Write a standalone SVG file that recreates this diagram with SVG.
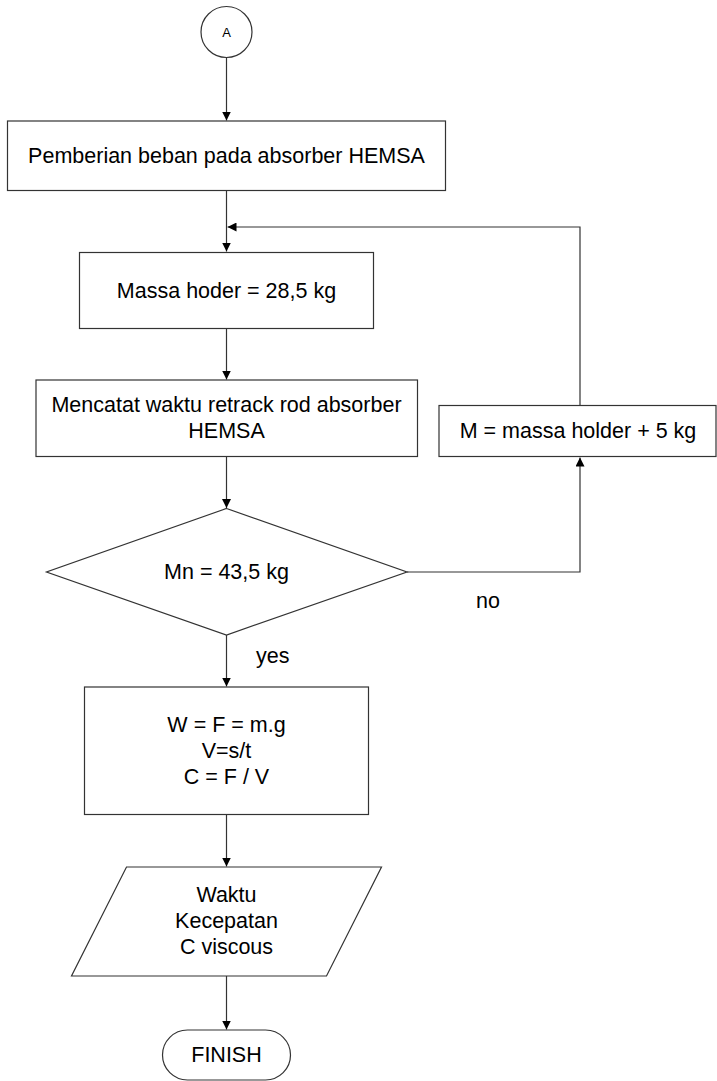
<svg xmlns="http://www.w3.org/2000/svg" width="717" height="1081" viewBox="0 0 717 1081">
<style>
.s{fill:#fff;stroke:#333;stroke-width:1.2}
.t{font-family:"Liberation Sans",Arial,sans-serif;font-size:21.5px;fill:#000;text-anchor:middle}
.l{font-family:"Liberation Sans",Arial,sans-serif;font-size:21.5px;fill:#000}
.c{fill:none;stroke:#333;stroke-width:1.2}
</style>
<defs>
<marker id="ah" viewBox="0 0 10 10" refX="10" refY="5" markerWidth="9" markerHeight="9" markerUnits="userSpaceOnUse" orient="auto">
<path d="M0,0 L10,5 L0,10 z" fill="#000"/>
</marker>
</defs>
<rect width="717" height="1081" fill="#fff"/>
<g id="connectors">
<path class="c" d="M226.5,57.5 V120.5" marker-end="url(#ah)"/>
<path class="c" d="M226.5,191 V251.5" marker-end="url(#ah)"/>
<path class="c" d="M226.5,329 V379.5" marker-end="url(#ah)"/>
<path class="c" d="M226.5,457 V508" marker-end="url(#ah)"/>
<path class="c" d="M226.5,635 V686.5" marker-end="url(#ah)"/>
<path class="c" d="M226.5,815 V866.5" marker-end="url(#ah)"/>
<path class="c" d="M226.5,976 V1029.5" marker-end="url(#ah)"/>
<path class="c" d="M407,572 H580 V457.5" marker-end="url(#ah)"/>
<path class="c" d="M580,405.5 V227 H227.5" marker-end="url(#ah)"/>
<text class="l" x="256" y="663">yes</text>
<text class="l" x="476" y="608">no</text>
</g>
<g id="nodeA">
<circle class="s" cx="226.5" cy="32" r="25.5"/>
<text class="t" x="226.5" y="36.5" style="font-size:13px">A</text>
</g>
<g id="node1">
<rect class="s" x="7.5" y="121" width="438" height="69.5"/>
<text class="t" x="226.5" y="162.5">Pemberian beban pada absorber HEMSA</text>
</g>
<g id="node2">
<rect class="s" x="79.5" y="252.5" width="294" height="76"/>
<text class="t" x="226.5" y="297.5">Massa hoder = 28,5 kg</text>
</g>
<g id="node3">
<rect class="s" x="36" y="380" width="381.5" height="76.5"/>
<text class="t" x="226.5" y="411.5">Mencatat waktu retrack rod absorber</text>
<text class="t" x="226.5" y="437.5">HEMSA</text>
</g>
<g id="node4">
<rect class="s" x="439" y="405.5" width="277" height="51"/>
<text class="t" x="578" y="437.5">M = massa holder + 5 kg</text>
</g>
<g id="decision">
<polygon class="s" points="226.5,508.5 407,572 226.5,635 46.5,572"/>
<text class="t" x="226.5" y="578.5">Mn = 43,5 kg</text>
</g>
<g id="node5">
<rect class="s" x="84.5" y="687" width="284" height="127.5"/>
<text class="t" x="226.5" y="732">W = F = m.g</text>
<text class="t" x="226.5" y="758">V=s/t</text>
<text class="t" x="226.5" y="783.5">C = F / V</text>
</g>
<g id="output">
<polygon class="s" points="126.5,867 381.5,867 326.5,976 71.5,976"/>
<text class="t" x="226.5" y="901.5">Waktu</text>
<text class="t" x="226.5" y="927.5">Kecepatan</text>
<text class="t" x="226.5" y="953.5">C viscous</text>
</g>
<g id="finish">
<rect class="s" x="162.5" y="1030" width="128" height="50" rx="25" ry="25"/>
<text class="t" x="226.5" y="1062">FINISH</text>
</g>
</svg>
